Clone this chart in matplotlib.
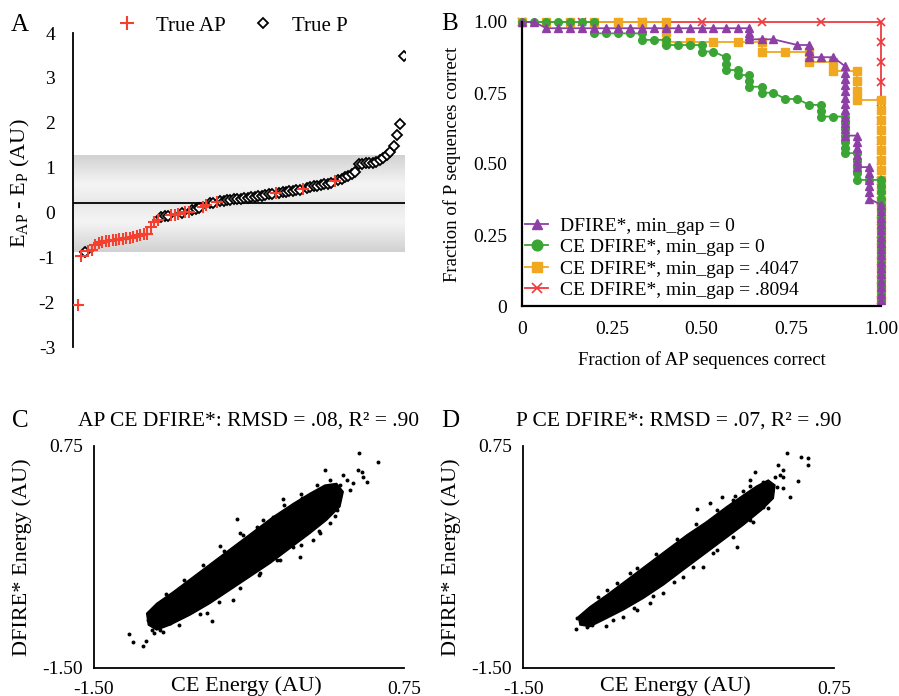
import numpy as np
import matplotlib
matplotlib.use("Agg")
import matplotlib.pyplot as plt
from matplotlib.colors import LinearSegmentedColormap

plt.rcParams['font.family'] = 'Liberation Serif'
plt.rcParams['mathtext.fontset'] = 'custom'
plt.rcParams['mathtext.rm'] = 'Liberation Serif'

# ---------------- Panel A: sorted energy gaps ----------------
a_gap = [-2.06, -0.98, -0.89, -0.86, -0.84, -0.72, -0.68, -0.66, -0.64, -0.63,
         -0.62, -0.61, -0.60, -0.59, -0.57, -0.56, -0.54, -0.52, -0.51, -0.49,
         -0.47, -0.33, -0.22, -0.16, -0.10, -0.08, -0.07, -0.06, -0.05, -0.04,
         -0.01, 0.00, 0.01, 0.05, 0.07, 0.09, 0.13, 0.17, 0.20, 0.22,
         0.23, 0.25, 0.26, 0.27, 0.28, 0.29, 0.30, 0.31, 0.32, 0.33,
         0.34, 0.35, 0.36, 0.37, 0.38, 0.40, 0.41, 0.43, 0.44, 0.45,
         0.46, 0.47, 0.48, 0.49, 0.50, 0.52, 0.55, 0.57, 0.59, 0.60,
         0.62, 0.63, 0.64, 0.66, 0.69, 0.72, 0.75, 0.78, 0.82, 0.86,
         0.90, 1.08, 1.09, 1.10, 1.10, 1.11, 1.12, 1.16, 1.21, 1.27,
         1.35, 1.47, 1.73, 1.97, 3.49]
a_truth = ("AAP" "AAAAAAAAAAAAAAAAAAAAA" "PPP" "AAA" "P" "AA" "PPP" "AA" "PP" "A"
           "PPPPPPPPPPPPPPPP" "A" "PPPPPPP" "A" "PPPPPPPP" "A" "PPPPPPPPPPPPPPPPPPPP")
a_line = 0.2
a_band = (-0.89, 1.27)
a_yticks = [4, 3, 2, 1, 0, -1, -2, -3]

# ---------------- Panel B: fraction correct curves ----------------
purple_x = [0, 0.033, 0.067, 0.1, 0.133, 0.167, 0.2, 0.233, 0.267, 0.3, 0.333, 0.367,
            0.4, 0.433, 0.467, 0.5, 0.533, 0.567, 0.6, 0.633, 0.633, 0.633, 0.633,
            0.667, 0.7, 0.767, 0.8, 0.8, 0.8, 0.833, 0.867,
            0.9, 0.9, 0.9, 0.9, 0.9, 0.9, 0.9, 0.9, 0.9, 0.9, 0.9, 0.9,
            0.933, 0.933, 0.933, 0.933, 0.933, 0.933,
            0.967, 0.967, 0.967, 0.967, 0.967, 0.967,
            1.0, 1.0, 1.0, 1.0, 1.0, 1.0, 1.0, 1.0, 1.0, 1.0, 1.0, 1.0, 1.0, 1.0, 1.0, 1.0]
purple_y = [1.0, 1.0, 0.978, 0.978, 0.978, 0.978, 0.978, 0.978, 0.978, 0.978, 0.978,
            0.978, 0.978, 0.978, 0.978, 0.978, 0.978, 0.978, 0.978,
            0.978, 0.963, 0.95, 0.939, 0.939, 0.939, 0.919, 0.919, 0.897, 0.876,
            0.876, 0.876,
            0.844, 0.822, 0.8, 0.778, 0.756, 0.733, 0.711, 0.689, 0.667, 0.644, 0.622, 0.6,
            0.6, 0.578, 0.556, 0.533, 0.511, 0.489,
            0.489, 0.467, 0.444, 0.422, 0.4, 0.378,
            0.356, 0.333, 0.311, 0.289, 0.267, 0.244, 0.222, 0.2, 0.178, 0.156, 0.133,
            0.111, 0.089, 0.067, 0.044, 0.022]

green_x = [0, 0.033, 0.067, 0.1, 0.133, 0.167, 0.2, 0.2, 0.233, 0.267, 0.3, 0.333, 0.333,
           0.367, 0.4, 0.4, 0.433, 0.467, 0.5, 0.5, 0.533, 0.567, 0.567, 0.567, 0.6, 0.6,
           0.633, 0.633, 0.633, 0.667, 0.667, 0.7, 0.733, 0.767, 0.8, 0.833, 0.833, 0.833,
           0.867, 0.9, 0.9, 0.9, 0.9, 0.9, 0.9, 0.9, 0.933, 0.933, 0.933, 0.933, 0.933,
           0.967, 1.0,
           1.0, 1.0, 1.0, 1.0, 1.0, 1.0, 1.0, 1.0, 1.0, 1.0, 1.0, 1.0, 1.0, 1.0, 1.0, 1.0,
           1.0, 1.0, 1.0]
green_y = [1.0, 1.0, 1.0, 1.0, 1.0, 1.0, 1.0, 0.96, 0.96, 0.96, 0.96, 0.96, 0.937,
           0.937, 0.937, 0.919, 0.919, 0.919, 0.919, 0.896, 0.896, 0.876, 0.853, 0.831,
           0.831, 0.813, 0.813, 0.792, 0.772, 0.772, 0.751, 0.751, 0.729, 0.729, 0.708,
           0.708, 0.688, 0.667, 0.667, 0.667, 0.644, 0.622, 0.6, 0.578, 0.556, 0.538,
           0.538, 0.511, 0.489, 0.467, 0.444, 0.444, 0.444,
           0.422, 0.4, 0.378, 0.356, 0.333, 0.311, 0.289, 0.267, 0.244, 0.222, 0.2,
           0.178, 0.156, 0.133, 0.111, 0.089, 0.067, 0.044, 0.022]

orange_x = [0, 0.067, 0.133, 0.2, 0.267, 0.333, 0.4, 0.4, 0.4, 0.467, 0.533, 0.6, 0.667,
            0.667, 0.733, 0.8, 0.8, 0.867, 0.867, 0.933, 0.933, 0.933, 0.933, 1.0,
            1.0, 1.0, 1.0, 1.0, 1.0, 1.0, 1.0, 1.0, 1.0, 1.0, 1.0, 1.0, 1.0, 1.0, 1.0,
            1.0, 1.0, 1.0, 1.0, 1.0]
orange_y = [1.0, 1.0, 1.0, 1.0, 1.0, 1.0, 1.0, 0.964, 0.931, 0.931, 0.931, 0.931, 0.931,
            0.896, 0.896, 0.896, 0.86, 0.86, 0.827, 0.827, 0.793, 0.758, 0.725, 0.725,
            0.69, 0.655, 0.62, 0.585, 0.55, 0.515, 0.48, 0.445, 0.41, 0.375, 0.34,
            0.305, 0.27, 0.235, 0.2, 0.165, 0.13, 0.095, 0.06, 0.025]

red_x = [0, 0.167, 0.333, 0.5, 0.667, 0.833, 1.0,
         1.0, 1.0, 1.0, 1.0, 1.0, 1.0, 1.0, 1.0, 1.0, 1.0, 1.0, 1.0, 1.0, 1.0]
red_y = [1.0, 1.0, 1.0, 1.0, 1.0, 1.0, 1.0,
         0.93, 0.86, 0.79, 0.72, 0.65, 0.58, 0.51, 0.44, 0.37, 0.3, 0.23, 0.16, 0.09, 0.02]

b_ticks = [0, 0.25, 0.5, 0.75, 1.0]
b_ticklabels = ['0', '0.25', '0.50', '0.75', '1.00']

# ---------------- Panels C/D: energy correlation clouds ----------------
# outline of the solid core, then the sparse points around it
c_core_x = [-1.118, -1.045, -0.924, -0.779, -0.634, -0.489, -0.344, -0.199, -0.053, 0.067,
            0.176, 0.261, 0.309, 0.285, 0.188, 0.067, -0.078, -0.223, -0.368, -0.513,
            -0.658, -0.803, -0.948, -1.045, -1.106]
c_core_y = [-0.946, -0.845, -0.727, -0.575, -0.423, -0.271, -0.119, 0.033, 0.168, 0.270,
            0.354, 0.371, 0.287, 0.135, -0.001, -0.136, -0.288, -0.440, -0.575, -0.710,
            -0.845, -0.963, -1.064, -1.115, -1.064]
c_pts_x = [-1.244, -1.215, -1.147, -1.125, -1.082, -1.065, -1.045, -1.106, -1.021, -0.948,
           -0.644, -0.973, -0.876, -1.057, -0.828, -0.731, -0.586, -0.465, -0.440, -0.126,
           -0.078, -0.005, 0.140, 0.092, 0.213, 0.261, 0.285, 0.334, 0.309, 0.176,
           0.213, 0.358, 0.382, 0.418, 0.442, 0.479, 0.423, 0.559, 0.455, 0.237,
           0.092, 0.007, -0.199, -0.320, -0.174, -0.295, -0.489, -0.682, -0.852, -0.791,
           -0.513, -0.392, -0.053, 0.140,
           -0.98, -0.85, -0.71, -0.56, -0.42, -0.27, -0.12, 0.0, 0.12,
           0.25, 0.13, 0.0, -0.15, -0.3, -0.44, -0.59, -0.73, -0.88, -1.0]
c_pts_y = [-1.159, -1.233, -1.277, -1.223, -1.115, -1.149, -1.081, -1.014, -1.115, -1.047,
           -1.024, -0.845, -0.760, -0.895, -0.676, -0.608, -0.261, 0.006, -0.136, 0.209,
           -0.203, -0.372, 0.101, -0.203, -0.034, 0.101, 0.354, 0.405, 0.455, 0.506,
           0.405, 0.303, 0.371, 0.506, 0.489, 0.388, 0.675, 0.590, 0.439, 0.202,
           0.236, 0.219, 0.033, -0.068, -0.406, -0.541, -0.811, -0.946, -0.946, -0.845,
           -0.541, -0.372, -0.271, -0.136,
           -0.75, -0.61, -0.46, -0.31, -0.15, 0.0, 0.15, 0.26, 0.35,
           0.04, -0.11, -0.25, -0.41, -0.56, -0.69, -0.83, -0.95, -1.06, -1.14]

d_core_x = [-1.102, -1.018, -0.897, -0.752, -0.608, -0.463, -0.318, -0.174, -0.029, 0.092,
            0.188, 0.272, 0.321, 0.309, 0.224, 0.092, -0.053, -0.198, -0.343, -0.487,
            -0.632, -0.777, -0.921, -1.018, -1.090]
d_core_y = [-0.980, -0.879, -0.760, -0.608, -0.456, -0.304, -0.152, -0.017, 0.135, 0.253,
            0.344, 0.405, 0.354, 0.219, 0.101, -0.051, -0.203, -0.355, -0.507, -0.659,
            -0.794, -0.912, -1.014, -1.081, -1.064]
d_pts_x = [-1.119, -1.114, -1.078, -1.042, -1.006, -0.902, -0.957, -0.680, -0.825, -0.897,
           -0.728, -0.584, -0.439, -0.246, -0.246, -0.343, -0.101, -0.065, 0.019, 0.092,
           0.140, 0.176, 0.236, 0.284, 0.321, 0.345, 0.357, 0.381, 0.381, 0.405,
           0.429, 0.489, 0.509, 0.562, 0.562, 0.333, 0.236, 0.140, 0.043, -0.101,
           -0.198, -0.343, -0.487, -0.584, -0.777, 0.043, -0.150, 0.381,
           -0.96, -0.82, -0.68, -0.54, -0.39, -0.25, -0.1, 0.03, 0.14,
           0.27, 0.16, 0.02, -0.13, -0.27, -0.41, -0.56, -0.7, -0.85]
d_pts_y = [-1.101, -0.997, -1.014, -1.081, -1.064, -1.074, -0.946, -0.912, -0.811, -0.710,
           -0.541, -0.473, -0.406, 0.111, -0.203, -0.338, -0.001, 0.236, 0.202, 0.297,
           0.405, 0.489, 0.388, 0.303, 0.439, 0.557, 0.455, 0.439, 0.320, 0.675,
           0.236, 0.398, 0.641, 0.624, 0.557, 0.337, 0.135, -0.001, -0.271, -0.304,
           -0.473, -0.575, -0.744, -0.845, -0.980, 0.067, 0.168, 0.506,
           -0.78, -0.64, -0.49, -0.34, -0.19, -0.04, 0.1, 0.24, 0.34,
           0.12, -0.02, -0.17, -0.33, -0.48, -0.63, -0.77, -0.89, -1.01]

W, H = 899, 696
fig = plt.figure(figsize=(W / 100, H / 100), dpi=100)


def box(l, t, r, b):
    return [l / W, 1 - b / H, (r - l) / W, (b - t) / H]


# ---- A ----
axA = fig.add_axes(box(73.3, 33, 405, 347))
n = len(a_gap)
idx = np.arange(n)
xlo, xhi = -1.3, n - 0.7
grad = LinearSegmentedColormap.from_list('band', ['#d2d2d2', '#f6f6f6'])
ys = np.linspace(a_band[1], a_band[0], 200)
dist = np.abs(ys - a_line) / (a_band[1] - a_line)
shade = np.interp(dist, [0, 0.12, 0.4, 1.0], [0.55, 0.75, 0.95, 0.0])
axA.imshow(shade[:, None], extent=[xlo, xhi, a_band[0], a_band[1]], aspect='auto',
           cmap=grad, vmin=0, vmax=1, zorder=0)
axA.plot([xlo, xhi], [a_line, a_line], color='black', lw=1.3, zorder=1)
ap = np.array([t == 'A' for t in a_truth])
gap = np.array(a_gap)
axA.plot(idx[ap], gap[ap], ls='none', marker='+', ms=8, mew=1.5, color='#f4402e',
         label='True AP', zorder=3)
axA.plot(idx[~ap], gap[~ap], ls='none', marker='D', ms=4.6, mew=1.3, mfc='white',
         mec='black', label='True P', zorder=2)
axA.set_xlim(xlo, xhi)
axA.set_ylim(-3, 4)
axA.set_xticks([])
axA.set_yticks(a_yticks)
axA.set_yticklabels([str(v) for v in a_yticks], fontsize=14)
axA.tick_params(axis='y', length=0, pad=13)
for s in ['top', 'right', 'bottom']:
    axA.spines[s].set_visible(False)
axA.spines['left'].set_linewidth(1.3)
axA.set_ylabel(r'E$_\mathregular{AP}$ - E$_\mathregular{P}$ (AU)', fontsize=16)
axA.yaxis.set_label_coords(-0.16, 0.52)
axA.yaxis.label.set_va('center')
axA.legend(loc='center', bbox_to_anchor=(232 / W, 1 - 26 / H), bbox_transform=fig.transFigure,
           ncol=2, frameon=False, fontsize=15, handlelength=1.0, handletextpad=0.9,
           columnspacing=1.3, borderpad=0, borderaxespad=0, markerscale=1.2)

# ---- B ----
axB = fig.add_axes(box(522.3, 22, 881, 306))
style = dict(lw=1.3, ms=5.5, clip_on=False)
axB.plot(red_x, red_y, color='#ee3a3e', marker='x', mew=1.2, label='CE DFIRE*, min_gap = .8094', **style)
axB.plot(orange_x, orange_y, color='#f0a820', marker='s', label='CE DFIRE*, min_gap = .4047', **style)
axB.plot(green_x, green_y, color='#3aa535', marker='o', label='CE DFIRE*, min_gap = 0', **style)
axB.plot(purple_x, purple_y, color='#8d3fa6', marker='^', label='DFIRE*, min_gap = 0', **style)
axB.set_xlim(0, 1)
axB.set_ylim(0, 1)
axB.set_xticks(b_ticks)
axB.set_xticklabels(b_ticklabels, fontsize=14)
axB.set_yticks(b_ticks)
axB.set_yticklabels(b_ticklabels, fontsize=14)
axB.tick_params(length=0, pad=11)
for s in ['top', 'right']:
    axB.spines[s].set_visible(False)
for s in ['left', 'bottom']:
    axB.spines[s].set_linewidth(1.6)
axB.set_xlabel('Fraction of AP sequences correct', fontsize=13.5)
axB.xaxis.set_label_coords(0.5, -0.19)
axB.xaxis.label.set_va('center')
axB.set_ylabel('Fraction of P sequences correct', fontsize=13.5)
axB.yaxis.set_label_coords(-0.195, 0.5)
axB.yaxis.label.set_va('center')
h, l = axB.get_legend_handles_labels()
axB.legend(h[::-1], l[::-1], loc='center left', bbox_to_anchor=(525 / W, 1 - 258 / H),
           bbox_transform=fig.transFigure, frameon=False, fontsize=14, handlelength=1.2,
           handletextpad=0.6, labelspacing=0.2, borderpad=0, borderaxespad=0,
           markerscale=1.4)


# ---- C / D ----
def cloud(ax, cx, cy, px, py, title):
    ax.fill(cx, cy, color='black', lw=1.0, ec='black', zorder=2)
    ax.scatter(px, py, s=8, color='black', lw=0, zorder=3)
    ax.set_xlim(-1.5, 0.75)
    ax.set_ylim(-1.5, 0.75)
    ax.set_xticks([-1.5, 0.75])
    ax.set_xticklabels(['-1.50', '0.75'], fontsize=14)
    ax.set_yticks([-1.5, 0.75])
    ax.set_yticklabels(['-1.50', '0.75'], fontsize=14)
    ax.tick_params(length=0)
    ax.tick_params(axis='x', pad=9)
    ax.tick_params(axis='y', pad=8)
    for s in ['top', 'right']:
        ax.spines[s].set_visible(False)
    for s in ['left', 'bottom']:
        ax.spines[s].set_linewidth(1.3)
    ax.set_xlabel('CE Energy (AU)', fontsize=16)
    ax.xaxis.set_label_coords(0.49, -0.08)
    ax.xaxis.label.set_va('center')
    ax.set_ylabel('DFIRE* Energy (AU)', fontsize=16)
    ax.yaxis.set_label_coords(-0.232, 0.5)
    ax.yaxis.label.set_va('center')
    ax.text(0.5, 1 + 25 / 222, title, transform=ax.transAxes, ha='center', va='center',
            fontsize=15.5)


axC = fig.add_axes(box(94, 446, 404, 668))
cloud(axC, c_core_x, c_core_y, c_pts_x, c_pts_y, 'AP CE DFIRE*: RMSD = .08, R² = .90')
axD = fig.add_axes(box(523.3, 446, 834.3, 668))
cloud(axD, d_core_x, d_core_y, d_pts_x, d_pts_y, 'P CE DFIRE*: RMSD = .07, R² = .90')

for lab, x, y in [('A', 20, 25), ('B', 450, 24), ('C', 20, 421), ('D', 450, 421)]:
    fig.text(x / W, 1 - y / H, lab, fontsize=18, ha='center', va='center')

fig.savefig('out.png', dpi=100)
